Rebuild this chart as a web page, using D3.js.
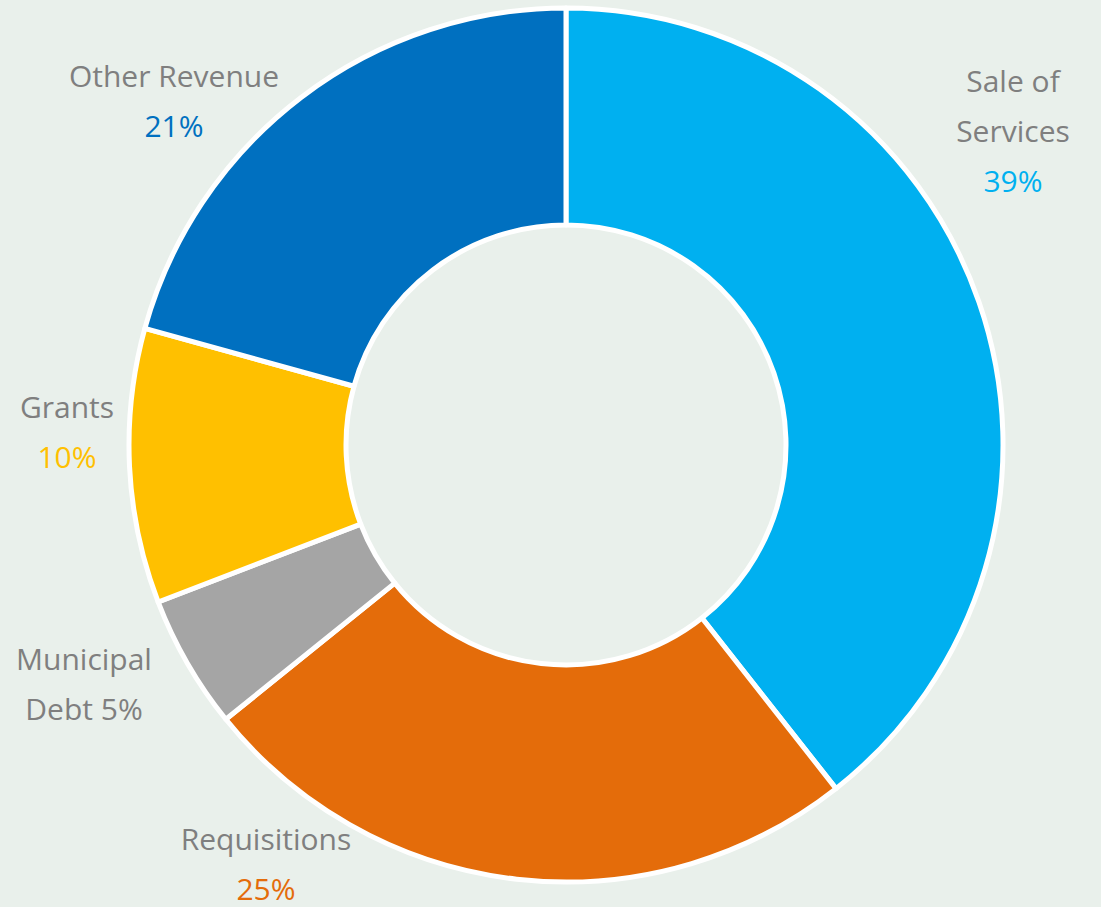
<!DOCTYPE html>
<html>
<head>
<meta charset="utf-8">
<script src="https://cdn.jsdelivr.net/npm/d3@7"></script>
<style>
  html, body { margin: 0; padding: 0; background: #e9f0eb; }
  svg { display: block; }
  text { font-family: "Open Sans", "Noto Sans", sans-serif; }
</style>
</head>
<body>
<svg width="1101" height="907"></svg>
<script>
// revenue shares, clockwise from 12 o'clock
var categories = ["Sale of Services", "Requisitions", "Municipal Debt", "Grants", "Other Revenue"];
var shares     = [39.4, 24.8, 4.95, 10.15, 20.7];
var pctLabels  = ["39%", "25%", "5%", "10%", "21%"];
var colors     = ["#00b0f0", "#e46c0a", "#a5a5a5", "#ffc000", "#0070c0"];

var svg = d3.select("svg"),
    width = +svg.attr("width"),
    height = +svg.attr("height");

var cx = 566, cy = 445;

var pie = d3.pie().sort(null).value(function(d) { return d; });
var arc = d3.arc().innerRadius(220).outerRadius(437);

var g = svg.append("g").attr("transform", "translate(" + cx + "," + cy + ")");

g.selectAll("path")
    .data(pie(shares))
  .enter().append("path")
    .attr("d", arc)
    .style("fill", function(d, i) { return colors[i]; })
    .style("stroke", "#fff")
    .style("stroke-width", 5)
    .style("stroke-linejoin", "round");

// label layout: lines of text, x centre, first baseline
var grey = "#7f7f7f";
var labelLayout = [
  { x: 1013, y: 92,  lines: [["Sale of", grey], ["Services", grey], [pctLabels[0], colors[0]]] },
  { x: 266,  y: 850, lines: [["Requisitions", grey], [pctLabels[1], colors[1]]] },
  { x: 84,   y: 670, lines: [["Municipal", grey], ["Debt " + pctLabels[2], grey]] },
  { x: 67,   y: 418, lines: [["Grants", grey], [pctLabels[3], colors[3]]] },
  { x: 174,  y: 87,  lines: [["Other Revenue", grey], [pctLabels[4], colors[4]]] }
];

var lineH = 50;
labelLayout.forEach(function(l) {
  svg.append("g").selectAll("text")
      .data(l.lines)
    .enter().append("text")
      .attr("x", l.x)
      .attr("y", function(d, i) { return l.y + i * lineH; })
      .attr("text-anchor", "middle")
      .style("font-size", "30px")
      .style("fill", function(d) { return d[1]; })
      .text(function(d) { return d[0]; });
});
</script>
</body>
</html>
